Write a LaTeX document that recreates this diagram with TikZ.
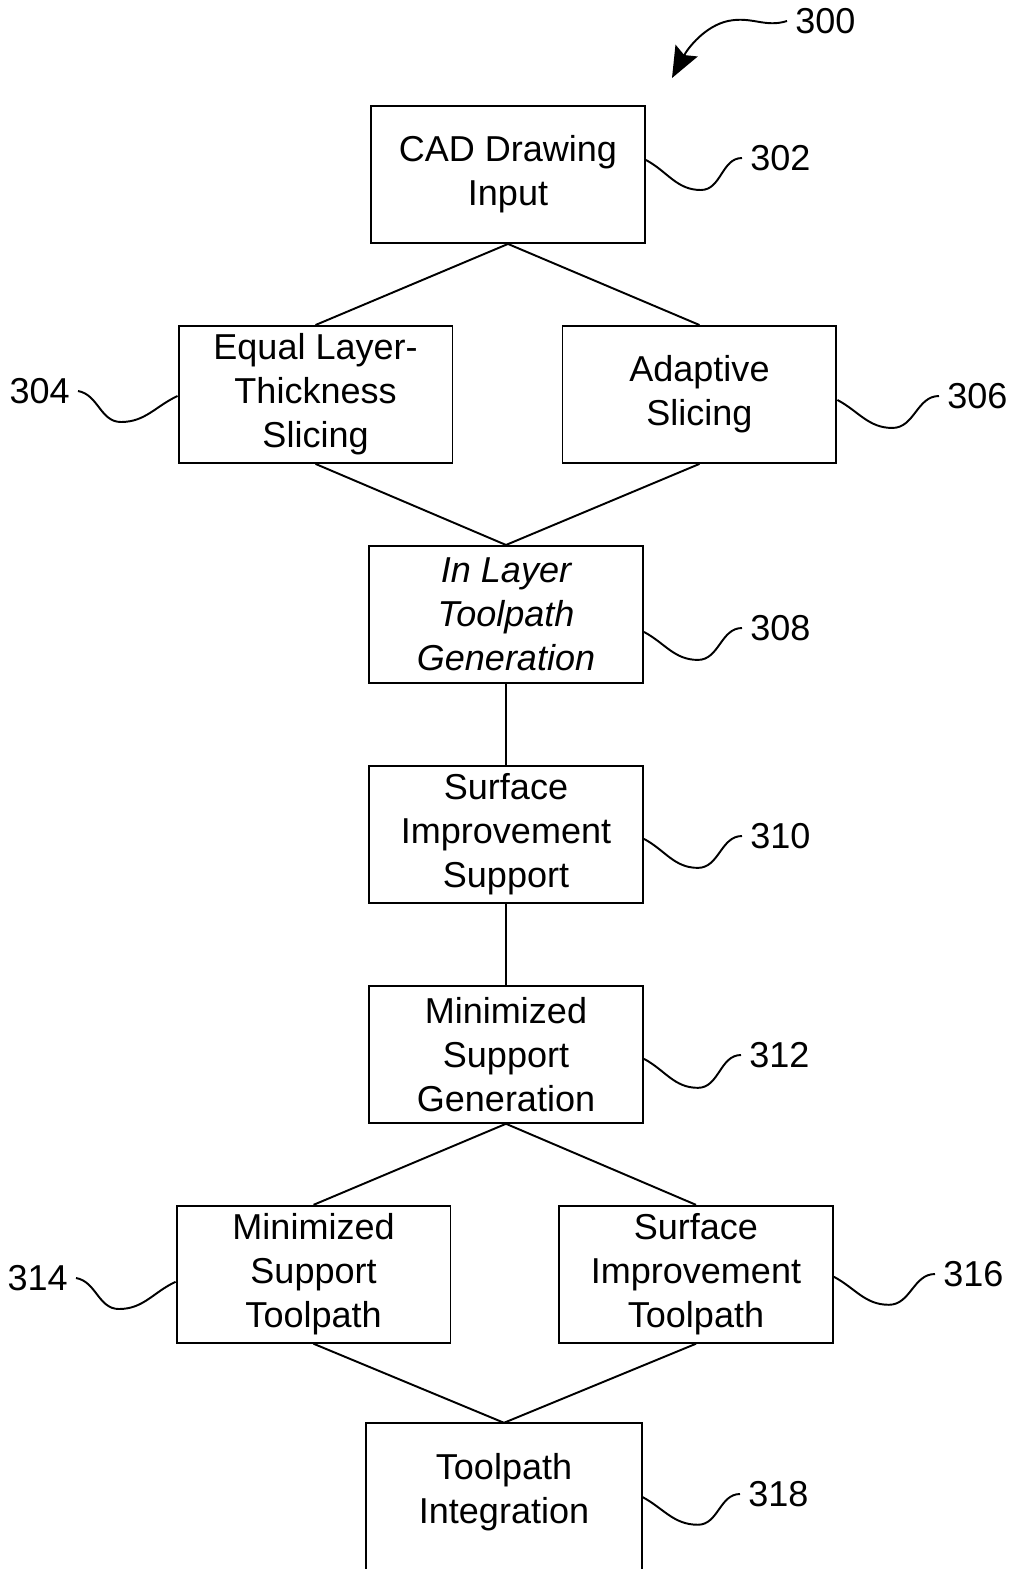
\documentclass[tikz,border=0pt]{standalone}
\usepackage{fontspec}
\setmainfont{Liberation Sans}
\usepackage{tikz}
\usetikzlibrary{positioning,arrows.meta}
\newcommand{\flowfont}{\fontsize{20.5pt}{25pt}\selectfont}

\begin{document}
\begin{tikzpicture}[
x=0.02cm, y=-0.02cm, node distance=4.4cm,
box/.style={rectangle, draw=black, line width=1.1pt, minimum width=5.48cm, minimum height=2.74cm, align=center, font=\flowfont},
link/.style={draw=black, line width=1.1pt},
lead/.style={draw=black, line width=1.1pt},
lbl/.style={font=\flowfont, inner sep=0.16cm}
]
\useasboundingbox (0,0) rectangle (1012,1569);
%Nodes
\node[box]      (p302)     at (508,174.5)                          {CAD Drawing\\Input};
\node[box]      (p304)     [below of =p302, xshift=-3.85cm]       {Equal Layer-\\Thickness\\Slicing};
\node[box]      (p306)     [below of =p302, xshift= 3.83cm]       {Adaptive\\Slicing};
\node[box]      (p308)     [below of =p302, yshift=-4.4cm, xshift=-0.04cm] {\itshape In Layer\\\itshape Toolpath\\\itshape Generation};
\node[box]      (p310)     [below of =p308]                       {Surface\\Improvement\\Support};
\node[box]      (p312)     [below of =p310]                       {Minimized\\Support\\Generation};
\node[box]      (p314)     [below of =p312, xshift=-3.85cm]       {Minimized\\Support\\Toolpath};
\node[box]      (p316)     [below of =p312, xshift= 3.8cm]        {Surface\\Improvement\\Toolpath};
\node[box, draw=none] (p318) [below of =p312, yshift=-4.36cm, xshift=-0.04cm] {Toolpath\\Integration};
%Reference numbers
\node[lbl, anchor=west]  (l300) at (787,21)    {300};
\node[lbl, anchor=west]  (l302) at (742,158)   {302};
\node[lbl, anchor=east]  (l304) at (78,391)    {304};
\node[lbl, anchor=west]  (l306) at (939,396)   {306};
\node[lbl, anchor=west]  (l308) at (742,628)   {308};
\node[lbl, anchor=west]  (l310) at (742,836)   {310};
\node[lbl, anchor=west]  (l312) at (741,1055)  {312};
\node[lbl, anchor=east]  (l314) at (76,1278)   {314};
\node[lbl, anchor=west]  (l316) at (935,1274)  {316};
\node[lbl, anchor=west]  (l318) at (740,1494)  {318};
\coordinate (tip300) at (672,78);
%Box 318 runs off the page
\draw[link] ([yshift=-0.6cm]p318.south west) |- (p318.north east) -- ([yshift=-0.6cm]p318.south east);
%Lines
\draw[link] (p302.south) -- (p304.north);
\draw[link] (p302.south) -- (p306.north);
\draw[link] (p304.south) -- (p308.north);
\draw[link] (p306.south) -- (p308.north);
\draw[link] (p308.south) -- (p310.north);
\draw[link] (p310.south) -- (p312.north);
\draw[link] (p312.south) -- (p314.north);
\draw[link] (p312.south) -- (p316.north);
\draw[link] (p314.south) -- (p318.north);
\draw[link] (p316.south) -- (p318.north);
%Leaders
\draw[lead, -{Stealth[length=0.62cm, width=0.5cm, inset=0.1cm]}] (l300.west) .. controls (765,28) and (752,16) .. (728,21) .. controls (705,26) and (688,48) .. (tip300);
\draw[lead] ([yshift=0.29cm]p302.east)  to[out=-28,in=180] ++(55,30) to[out=0,in=180] (l302.west);
\draw[lead] (l304.east) to[out=-10,in=180] ++(43,31) to[out=0,in=205] ([yshift=-0.03cm]p304.west);
\draw[lead] ([yshift=-0.11cm]p306.east) to[out=-28,in=180] ++(55,28) to[out=0,in=180] (l306.west);
\draw[lead] ([yshift=-0.35cm]p308.east) to[out=-28,in=180] ++(54,28) to[out=0,in=180] (l308.west);
\draw[lead] ([yshift=-0.09cm]p310.east) to[out=-28,in=180] ++(54,29) to[out=0,in=180] (l310.west);
\draw[lead] ([yshift=-0.09cm]p312.east) to[out=-28,in=180] ++(54,29) to[out=0,in=180] (l312.west);
\draw[lead] (l314.east) to[out=-10,in=180] ++(43,31) to[out=0,in=205] ([yshift=-0.15cm]p314.west);
\draw[lead] ([yshift=-0.05cm]p316.east) to[out=-28,in=180] ++(55,28) to[out=0,in=180] (l316.west);
\draw[lead] ([yshift=-0.09cm]p318.east) to[out=-28,in=180] ++(56,28) to[out=0,in=180] (l318.west);
\end{tikzpicture}
\end{document}
